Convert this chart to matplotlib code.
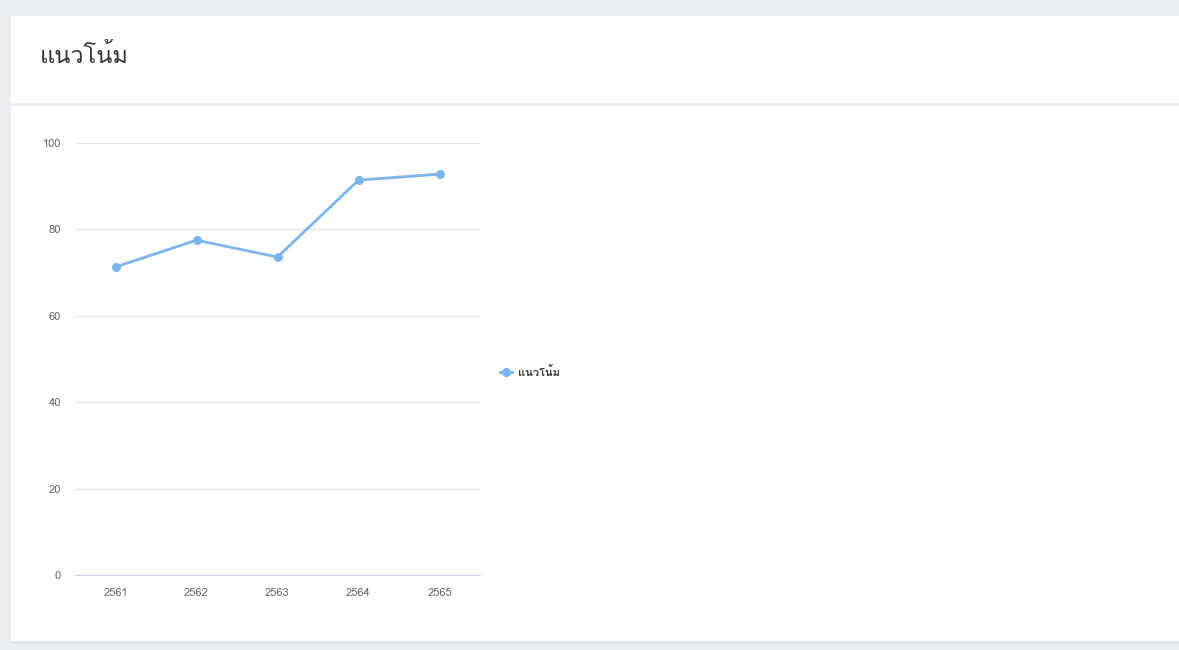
import matplotlib
matplotlib.use("Agg")
import matplotlib.pyplot as plt
from matplotlib import font_manager
from matplotlib.ft2font import FT2Font
from matplotlib.patches import Rectangle
from matplotlib.lines import Line2D

years = ["2561", "2562", "2563", "2564", "2565"]
trend = [71.3, 77.5, 73.6, 91.4, 92.8]
title = "แนวโน้ม"

W, H = 1179, 650

# find an installed family that has Thai glyphs
thai_fams = []
for f in font_manager.fontManager.ttflist:
    try:
        cm = FT2Font(f.fname).get_charmap()
    except Exception:
        continue
    if all(ord(c) in cm for c in title) and f.name not in thai_fams:
        thai_fams.append(f.name)
plt.rcParams['font.family'] = thai_fams[:1] + ['DejaVu Sans']

fig = plt.figure(figsize=(W / 100, H / 100), dpi=100)
fig.patch.set_facecolor('#eaedf2')

def px(x0, y0, x1, y1):
    # pixel box (top-left origin) -> figure fraction rect
    return [x0 / W, 1 - y1 / H, (x1 - x0) / W, (y1 - y0) / H]

# white card + soft bottom shadow
s = px(11, 16, W, 644)
fig.patches.append(Rectangle((s[0], s[1]), s[2], s[3], transform=fig.transFigure,
                             facecolor='#e1e4ea', edgecolor='none', zorder=-3))
r = px(11, 16, W, 641)
fig.patches.append(Rectangle((r[0], r[1]), r[2], r[3], transform=fig.transFigure,
                             facecolor='white', edgecolor='none', zorder=-2))
fig.lines.append(Line2D([11 / W, 1], [1 - 104 / H] * 2, transform=fig.transFigure,
                        color='#eceef1', lw=1.8, zorder=-1))
fig.text(40 / W, 1 - 56 / H, title, fontsize=17, color='#333333', va='center', ha='left')

ax = fig.add_axes(px(75, 143, 480, 575))
ax.patch.set_alpha(0)
xs = list(range(len(years)))
line, = ax.plot(xs, trend, color='#7cb5ec', lw=2, marker='o', ms=5.5, label=title)
ax.set_xlim(-0.5, len(years) - 0.5)
ax.set_ylim(0, 100)
ax.set_yticks([0, 20, 40, 60, 80, 100])
ax.set_xticks(xs)
ax.set_xticklabels(years)
ax.grid(axis='y', color='#e6e6e6', lw=1)
ax.set_axisbelow(True)
for sp in ['top', 'right', 'left']:
    ax.spines[sp].set_visible(False)
ax.spines['bottom'].set_color('#ccd6eb')
ax.tick_params(axis='both', length=0, labelsize=8, colors='#666666')
ax.tick_params(axis='y', pad=10)
ax.tick_params(axis='x', pad=9)

fig.legend(handles=[line], loc='center left', bbox_to_anchor=(490 / W, 1 - 372 / H),
           frameon=False, prop={'size': 8, 'weight': 'bold'}, handlelength=1.1,
           handletextpad=0.5, labelcolor='#333333')

fig.savefig('out.png', dpi=100, facecolor=fig.get_facecolor())
